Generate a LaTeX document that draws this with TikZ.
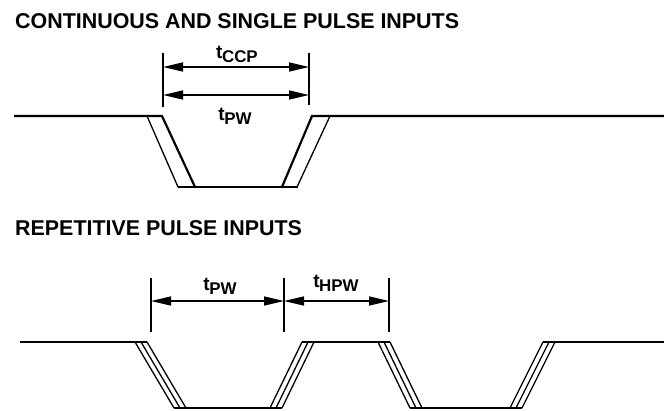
\documentclass[tikz,border=0pt]{standalone}
\usepackage{fontspec}
\setmainfont{Liberation Sans}
\usetikzlibrary{arrows.meta}
\newcommand{\tsub}[1]{{\fontsize{19}{19}\selectfont t}\kern-0.5bp\raisebox{-4bp}{\fontsize{17}{17}\selectfont #1}}

\begin{document}
\begin{tikzpicture}[x=1bp,y=-1bp,
	title/.style={anchor=base west,inner sep=0pt,font=\fontsize{21.5}{24}\selectfont\bfseries},
	lbl/.style={inner sep=0pt,font=\bfseries},
	wave/.style={line width=2.2bp,line join=miter},
	edgeline/.style={line width=1.3bp},
	dimline/.style={line width=2bp},
	dimarrow/.style={line width=1.5bp,{Triangle[length=20bp,width=9bp]}-{Triangle[length=20bp,width=9bp]}}]
	\useasboundingbox (0,0) rectangle (664,410);

	\node[title] (ctitle) at (15,28) {CONTINUOUS AND SINGLE PULSE INPUTS};
	\node[title] (rtitle) at (15,235) {REPETITIVE PULSE INPUTS};

	\coordinate (vccp) at (163,53);
	\coordinate (vccpb) at (163,107);
    \draw[dimline] (vccp) -- (vccpb);
	\coordinate (vpw) at (309,53);
	\coordinate (vpwb) at (309,105);
    \draw[dimline] (vpw) -- (vpwb);

	\coordinate (accpl) at (163,67);
	\coordinate (accpr) at (309,67);
    \draw[dimarrow] (accpl) -- (accpr);
	\coordinate (apwl) at (163,95);
	\coordinate (apwr) at (309,95);
    \draw[dimarrow] (apwl) -- (apwr);

	\coordinate (mccp) at (237,67);
	\node[lbl,above of=mccp,node distance=13bp] (tccp) {\tsub{CCP}};
	\coordinate (mpw) at (235,95);
	\node[lbl,below of=mpw,node distance=21bp] (tpw) {\tsub{PW}};

	\draw[wave] (14,116) -- (162,116) -- (195,187);
	\draw[wave] (178,187) -- (298,187);
	\draw[wave] (282,187) -- (312,116) -- (664,116);
	\draw[edgeline] (147,116) -- (178,187);
	\draw[edgeline] (297,187) -- (330,116);

	\coordinate (vrl) at (151,278);
	\coordinate (vrlb) at (151,332);
    \draw[dimline] (vrl) -- (vrlb);
	\coordinate (vrm) at (284,278);
	\coordinate (vrmb) at (284,332);
    \draw[dimline] (vrm) -- (vrmb);
	\coordinate (vrr) at (389,278);
	\coordinate (vrrb) at (389,332);
    \draw[dimline] (vrr) -- (vrrb);

	\coordinate (arl) at (151,301);
	\coordinate (arm) at (284,301);
	\coordinate (arr) at (389,301);
    \draw[dimarrow] (arl) -- (arm);
    \draw[dimarrow] (arm) -- (arr);

	\coordinate (mrpw) at (220,301);
	\node[lbl,above of=mrpw,node distance=15bp] (trpw) {\tsub{PW}};
	\coordinate (mhpw) at (336,301);
	\node[lbl,above of=mhpw,node distance=18bp] (thpw) {\tsub{HPW}};

	\draw[wave] (20,342) -- (147,342);
	\draw[wave] (302,342) -- (390,342);
	\draw[wave] (543,342) -- (664,342);
	\draw[wave] (174,408) -- (282,408);
	\draw[wave] (410,408) -- (522,408);
	\foreach \d in {0,6,12} {
		\draw[edgeline] (135+\d,342) -- (174+\d,408);
		\draw[edgeline] (270+\d,408) -- (302+\d,342);
		\draw[edgeline] (378+\d,342) -- (410+\d,408);
		\draw[edgeline] (510+\d,408) -- (543+\d,342);
	}
\end{tikzpicture}
\end{document}
